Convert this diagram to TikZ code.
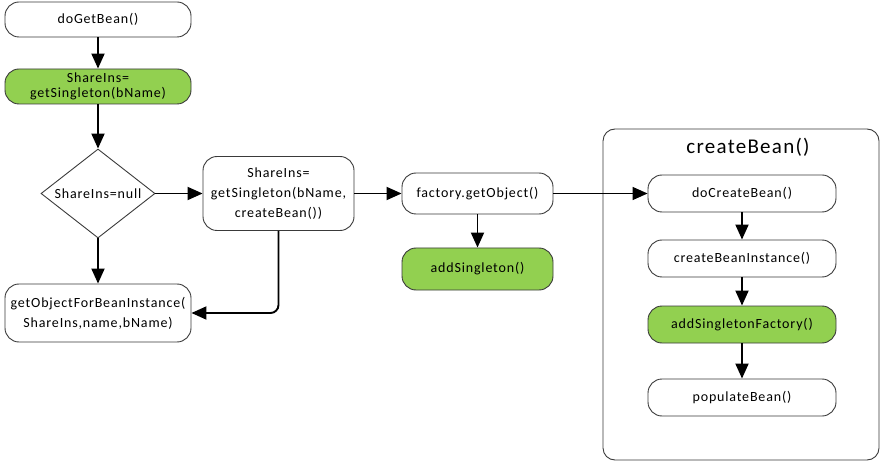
\documentclass[tikz,border=0pt]{standalone}
\usepackage{fontspec}
\setmainfont{Carlito}[LetterSpace=6]
\usetikzlibrary{arrows.meta,shapes.geometric}
\definecolor{leaf}{HTML}{92D050}
\definecolor{edge}{HTML}{3A3A3A}
\tikzset{
  box/.style={draw=edge, line width=0.9pt, rounded corners=14pt, fill=white,
    align=center, inner sep=1pt, font=\fontsize{14}{18}\selectfont},
  hot/.style={box, fill=leaf},
  flow/.style={line width=1.9pt, -{Triangle[length=15pt,width=13pt]}},
}
\begin{document}
\begin{tikzpicture}[x=1pt,y=-1pt]
\useasboundingbox (0,0) rectangle (883,462);

% container for createBean()
\node[draw=edge, line width=0.9pt, rounded corners=12pt, minimum width=276pt, minimum height=331pt,
  inner sep=0pt] (cb) at (741,294.5) {};
\node[font=\fontsize{21}{24}\selectfont] (cbt) at (748,147) {createBean()};

% left column
\node[box, minimum width=186pt, minimum height=35pt] (dgb) at (98,19.5) {doGetBean()};
\node[hot, minimum width=186pt, minimum height=35pt, font=\fontsize{14}{15.5}\selectfont] (gs) at (98,86.5) {ShareIns=\\getSingleton(bName)};
\node[draw=edge, line width=0.9pt, diamond, aspect=1.28, minimum width=114pt, minimum height=89pt,
  inner sep=0pt, font=\fontsize{14}{15}\selectfont] (nul) at (98,193.5) {ShareIns=null};
\node[box, minimum width=186pt, minimum height=58pt, font=\fontsize{14}{20}\selectfont] (gofb) at (98,313) {getObjectForBeanInstance(\\ShareIns,name,bName)};

% middle column
\node[box, minimum width=151pt, minimum height=74pt, font=\fontsize{14}{20}\selectfont] (gsc) at (278.5,193.5) {ShareIns=\\getSingleton(bName,\\createBean())};
\node[box, minimum width=151pt, minimum height=41pt] (fgo) at (477.5,193.5) {factory.getObject()};
\node[hot, minimum width=151pt, minimum height=42pt] (as) at (477.5,269) {addSingleton()};

% inside createBean()
\node[box, minimum width=188pt, minimum height=37pt] (dcb) at (742,193.5) {doCreateBean()};
\node[box, minimum width=188pt, minimum height=37pt] (cbi) at (742,258.5) {createBeanInstance()};
\node[hot, minimum width=188pt, minimum height=37pt] (asf) at (742,324.5) {addSingletonFactory()};
\node[box, minimum width=188pt, minimum height=37pt] (pb) at (742,397.5) {populateBean()};

% connectors
\draw[flow] (dgb) -- (gs);
\draw[flow] (gs) -- (nul);
\draw[flow] (nul) -- (gofb);
\draw[flow] (nul) -- (gsc);
\draw[flow, rounded corners=8pt] (gsc.south) |- (gofb.east);
\draw[flow] (gsc.east |- fgo.west) -- (fgo.west);
\draw[flow] (fgo) -- (as);
\draw[flow, line width=1.5pt] (fgo.east) -- (dcb.west);
\draw[flow] (dcb) -- (cbi);
\draw[flow] (cbi) -- (asf);
\draw[flow] (asf) -- (pb);
\end{tikzpicture}
\end{document}
